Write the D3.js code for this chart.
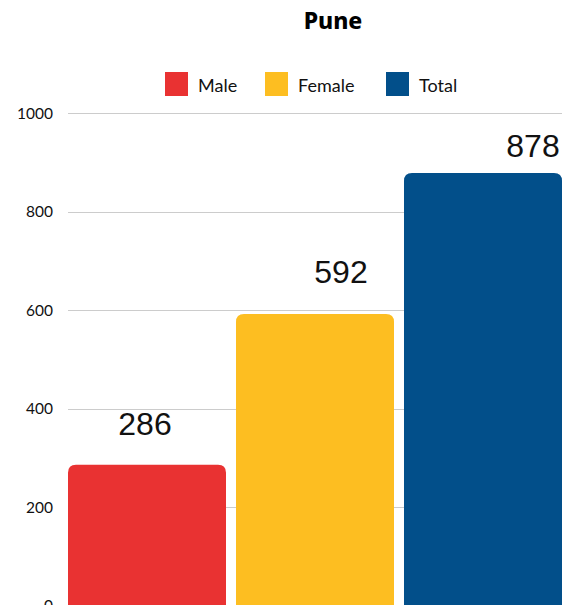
<!DOCTYPE html>
<html>
<head>
<meta charset="utf-8">
<script src="https://cdn.jsdelivr.net/npm/d3@7"></script>
<style>
  html, body { margin: 0; padding: 0; background: #fff; }
  svg { display: block; }
</style>
</head>
<body>
<svg id="chart" width="577" height="605"></svg>
<script>
const title = "Pune";
const categories = ["Male", "Female", "Total"];
const values = [286, 592, 878];
const colors = ["#E93232", "#FDBE21", "#024F8A"];
const yTicks = [0, 200, 400, 600, 800, 1000];

// layout-only label nudges (px) as seen in reference
const labelDx = [-2, 26, 50];
const labelDy = [-30, -31, -16];

const W = 577, H = 605;
const svg = d3.select("#chart");

const x = d3.scaleBand().domain(categories).range([68, 562]).paddingInner(0.0595).paddingOuter(0);
const y = d3.scaleLinear().domain([0, 1000]).range([605.5, 113]);

// gridlines
svg.append("g").selectAll("line").data(yTicks).join("line")
  .attr("x1", 68).attr("x2", 562)
  .attr("y1", d => Math.round(y(d)) + 0.5).attr("y2", d => Math.round(y(d)) + 0.5)
  .attr("stroke", "#cccccc").attr("stroke-width", 1);

// y axis labels
const yAxis = d3.axisLeft(y).tickValues(yTicks).tickSize(0).tickPadding(0).tickFormat(d3.format("d"));
const gy = svg.append("g").attr("transform", "translate(53,0)").call(yAxis);
gy.select(".domain").remove();
gy.selectAll("text").attr("font-family", "Lato, 'Noto Sans', sans-serif").attr("font-weight", 400)
  .attr("font-size", 15.5).attr("fill", "#111").attr("dy", "0.35em");

// bars with rounded top corners
const r = 8;
function barPath(x0, y0, w, yb) {
  return `M${x0},${yb} L${x0},${y0 + r} Q${x0},${y0} ${x0 + r},${y0} L${x0 + w - r},${y0} Q${x0 + w},${y0} ${x0 + w},${y0 + r} L${x0 + w},${yb} Z`;
}
svg.append("g").selectAll("path").data(categories).join("path")
  .attr("d", (c, i) => barPath(x(c), y(values[i]), x.bandwidth(), y(0) + 5))
  .attr("fill", (c, i) => colors[i]);

// value labels
svg.append("g").selectAll("text").data(categories).join("text")
  .attr("x", (c, i) => x(c) + x.bandwidth() / 2 + labelDx[i])
  .attr("y", (c, i) => y(values[i]) + labelDy[i])
  .attr("text-anchor", "middle")
  .attr("font-family", "'Liberation Sans', Arial, sans-serif")
  .attr("font-size", 32).attr("fill", "#111")
  .text((c, i) => values[i]);

// title
svg.append("text").attr("x", 333).attr("y", 29).attr("text-anchor", "middle")
  .attr("font-family", "'Noto Sans', 'Open Sans', sans-serif").attr("font-weight", 800)
  .attr("font-size", 23).attr("fill", "#000").text(title);

// legend
const legendX = [165, 265, 386];
const lg = svg.append("g").selectAll("g").data(categories).join("g")
  .attr("transform", (c, i) => `translate(${legendX[i]},72)`);
lg.append("rect").attr("width", 23).attr("height", 24).attr("fill", (c, i) => colors[i]);
lg.append("text").attr("x", 33).attr("y", 19.5)
  .attr("font-family", "Lato, 'Noto Sans', sans-serif").attr("font-weight", 400)
  .attr("font-size", 18).attr("fill", "#111")
  .text(c => c);
</script>
</body>
</html>
